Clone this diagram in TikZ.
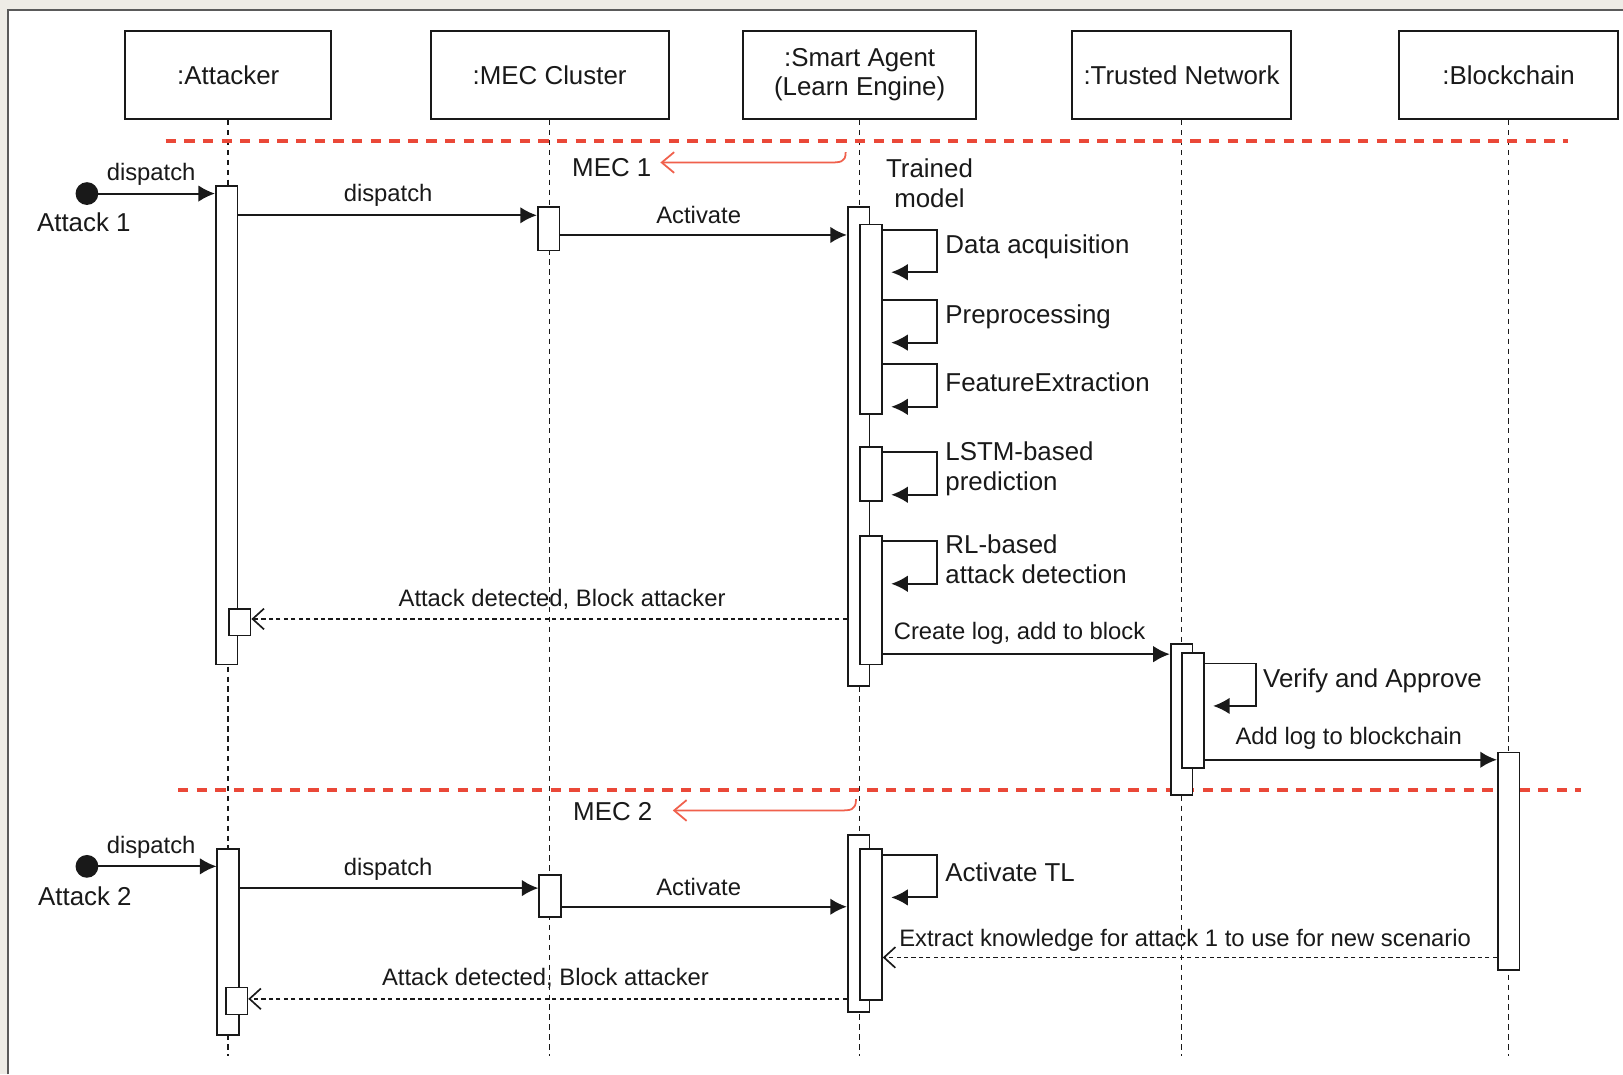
\documentclass[tikz,border=0pt]{standalone}
\usepackage{fontspec}
\setmainfont{Liberation Sans}
\usetikzlibrary{arrows.meta}
\definecolor{paper}{RGB}{238,236,230}
\definecolor{framegray}{RGB}{90,90,90}
\definecolor{sepred}{RGB}{234,72,56}
\definecolor{mecred}{RGB}{240,96,76}
\definecolor{ink}{RGB}{25,25,25}
\newcommand{\hdrfont}{\fontsize{12.5}{14.6}\selectfont}
\newcommand{\lblfont}{\fontsize{11.5}{14}\selectfont}
\tikzset{
  hdr/.style={draw=ink, line width=1pt, minimum height=42.5pt, inner sep=0pt, align=center, font=\hdrfont, text=ink},
  act/.style={draw=ink, fill=white, line width=0.85pt, inner sep=0pt, minimum width=10.5pt},
  lifeline/.style={draw=ink, line width=0.8pt, dash pattern=on 2.6pt off 2.2pt},
  sep/.style={sepred, line width=1.7pt, dash pattern=on 5pt off 4pt},
  msg/.style={draw=ink, line width=0.95pt, -{Latex[length=8pt,width=8pt]}},
  ret/.style={draw=ink, line width=0.8pt, dash pattern=on 2pt off 1.6pt, -{Straight Barb[length=5.5pt,width=10pt,line width=0.8pt]}},
  self/.style={draw=ink, line width=0.95pt, -{Latex[length=8pt,width=8pt]}},
  mec/.style={mecred, line width=0.85pt, -{Straight Barb[length=6pt,width=10pt,line width=0.85pt]}},
  lbl/.style={font=\lblfont, inner sep=0pt, text=ink},
  big/.style={font=\hdrfont, inner sep=0pt, align=left, text=ink},
}
\begin{document}
\begin{tikzpicture}[x=0.5pt, y=-0.5pt]
% page and frame
\fill[paper] (0,0) rectangle (1568,1038);
\useasboundingbox (0,0) rectangle (1568,1038);
\fill[white] (8,10) rectangle (1568,1038);
\draw[framegray, line width=1pt] (8,1038) -- (8,10) -- (1568,10);

% participants
\node[hdr, minimum width=99.5pt]  (att) at (220.5,72.5) {:Attacker};
\node[hdr, minimum width=115pt]   (mec) at (531,72.5) {:MEC Cluster};
\node[hdr, minimum width=112.5pt] (sa)  at (830.5,72.5) {\raisebox{-2pt}{\begin{tabular}{@{}c@{}}:Smart Agent\\[-0.5pt](Learn Engine)\end{tabular}}};
\node[hdr, minimum width=105.5pt] (tn)  at (1141.5,72.5) {:Trusted Network};
\node[hdr, minimum width=105.5pt] (bc)  at (1457.5,72.5) {:Blockchain};

% lifelines
\coordinate (attEnd) at (220,1020);
\coordinate (mecEnd) at (531,1020);
\coordinate (saEnd)  at (830,1020);
\coordinate (tnEnd)  at (1141,1020);
\coordinate (bcEnd)  at (1457,1020);
\draw[lifeline] (att.south) -- (att.south |- attEnd);
\draw[lifeline] (mec.south) -- (mec.south |- mecEnd);
\draw[lifeline] (sa.south)  -- (sa.south |- saEnd);
\draw[lifeline] (tn.south)  -- (tn.south |- tnEnd);
\draw[lifeline] (bc.south)  -- (bc.south |- bcEnd);

% MEC separators
\coordinate (sepA1) at (160,136);  \coordinate (sepA2) at (1515,136);
\coordinate (sepB1) at (172,763);  \coordinate (sepB2) at (1527,763);
\draw[sep] (sepA1) -- (sepA2);
\draw[sep] (sepB1) -- (sepB2);

% MEC markers
\coordinate (m1s) at (817,147);
\coordinate (m2s) at (827,772);
\node[big] (mec1lbl) at (591,162) {MEC 1};
\node[big] (mec2lbl) at (592,784) {MEC 2};
\draw[mec] (m1s) .. controls (817,157) and (812,157) .. (800,157) -- (638,157);
\draw[mec] (m2s) .. controls (827,783) and (822,783) .. (810,783) -- (650,783);

% ---------- scenario 1 ----------
\node[act, minimum height=231pt]   (attA) at (219,411) {};
\node[act, minimum height=13pt]    (attAr) at (231.5,601) {};
\node[act, minimum height=21pt]    (mecA) at (530,221) {};
\node[act, minimum height=231.5pt] (saA) at (829.5,431.5) {};
\node[act, minimum height=91.5pt]  (saA1) at (841.5,308.5) {};
\node[act, minimum height=26pt]    (saA2) at (841.5,458) {};
\node[act, minimum height=62pt]    (saA3) at (841.5,580) {};
\node[act, minimum height=73pt]    (tnA) at (1141.5,695) {};
\node[act, minimum height=55.5pt]  (tnA1) at (1152.5,686.5) {};
\node[act, minimum height=105pt]   (bcA) at (1457.5,832) {};

% attack 1 start
\fill[ink] (84,187) circle (5.5pt) coordinate (start1);
\draw[msg] (start1) -- (attA.west |- 0,187);
\node[lbl] at (146,168) {dispatch};
\node[big] at (81,215) {Attack 1};

\draw[msg] (attA.east |- 0,208) -- (mecA.west |- 0,208);
\node[lbl] at (375,189) {dispatch};
\draw[msg] (mecA.east |- 0,227) -- (saA.west |- 0,227);
\node[lbl] at (675,208) {Activate};

\node[big, align=center] at (898,177) {Trained\\model};

% learning pipeline self calls
\draw[self] (saA1.east |- 0,222) -- (905,222) -- (905,263) -- (861,263);
\node[big, anchor=west] at (913,238) {Data acquisition};
\draw[self] (saA1.east |- 0,290) -- (905,290) -- (905,331) -- (861,331);
\node[big, anchor=west] at (913,306) {Preprocessing};
\draw[self] (saA1.east |- 0,352) -- (905,352) -- (905,393) -- (861,393);
\node[big, anchor=west] at (913,369) {FeatureExtraction};
\draw[self] (saA2.east |- 0,437) -- (905,437) -- (905,478) -- (861,478);
\node[big, anchor=west] at (913,453) {LSTM-based\\prediction};
\draw[self] (saA3.east |- 0,523) -- (905,523) -- (905,564) -- (861,564);
\node[big, anchor=west] at (913,540) {RL-based\\attack detection};

\draw[ret] (saA.west |- 0,598) -- (attAr.east |- 0,598);
\node[lbl] at (543,579) {Attack detected, Block attacker};

\draw[msg] (saA3.east |- 0,632) -- (tnA.west |- 0,632);
\node[lbl] at (985,612) {Create log, add to block};

\draw[self] (tnA1.east |- 0,641) -- (1213,641) -- (1213,682) -- (1172,682);
\node[big, anchor=west] at (1220,658) {Verify and Approve};

\draw[msg] (tnA1.east |- 0,734) -- (bcA.west |- 0,734);
\node[lbl] at (1303,713) {Add log to blockchain};

% ---------- scenario 2 ----------
\node[act, minimum height=90pt]   (attB) at (220.5,910) {};
\node[act, minimum height=13pt]   (attBr) at (228.5,967) {};
\node[act, minimum height=20.5pt] (mecB) at (531.5,865.5) {};
\node[act, minimum height=85.5pt] (saB) at (829.5,892.5) {};
\node[act, minimum height=73pt]   (saB1) at (841.5,893) {};

\fill[ink] (84,837) circle (5.5pt) coordinate (start2);
\draw[msg] (start2) -- (attB.west |- 0,837);
\node[lbl] at (146,819) {dispatch};
\node[big] at (82,866) {Attack 2};

\draw[msg] (attB.east |- 0,858) -- (mecB.west |- 0,858);
\node[lbl] at (375,840) {dispatch};
\draw[msg] (mecB.east |- 0,876) -- (saB.west |- 0,876);
\node[lbl] at (675,857) {Activate};

\draw[self] (saB1.east |- 0,826) -- (905,826) -- (905,867) -- (861,867);
\node[big, anchor=west] at (913,843) {Activate TL};

\draw[ret] (bcA.west |- 0,925) -- (saB1.east |- 0,925);
\node[lbl] at (1145,908) {Extract knowledge for attack 1 to use for new scenario};

\draw[ret] (saB.west |- 0,965) -- (attBr.east |- 0,965);
\node[lbl] at (527,945) {Attack detected, Block attacker};
\end{tikzpicture}
\end{document}
